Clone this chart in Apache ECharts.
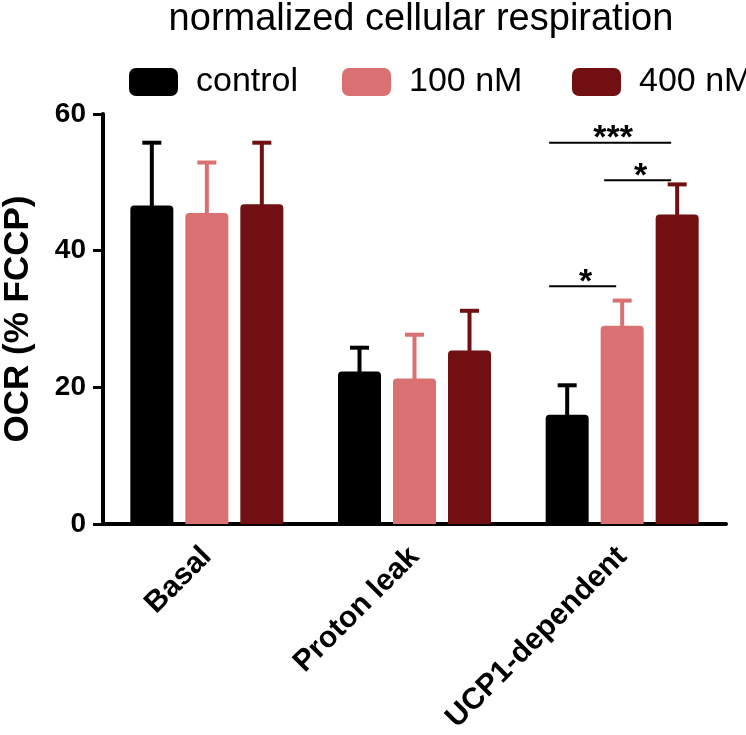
<!DOCTYPE html>
<html>
<head>
<meta charset="utf-8">
<script src="https://cdn.jsdelivr.net/npm/echarts@6/dist/echarts.min.js"></script>
<style>
html,body{margin:0;padding:0;background:#fff;}
#chart{width:746px;height:735px;}
</style>
</head>
<body>
<div id="chart"></div>
<script>
const categories = ['Basal', 'Proton leak', 'UCP1-dependent'];
const seriesNames = ['control', '100 nM', '400 nM'];
const controlMean = [46.6, 22.3, 16.0];
const controlErrTop = [55.8, 25.8, 20.3];
const nM100Mean = [45.5, 21.3, 29.0];
const nM100ErrTop = [52.9, 27.7, 32.7];
const nM400Mean = [46.8, 25.4, 45.3];
const nM400ErrTop = [55.8, 31.2, 49.7];
const yTicks = [0, 20, 40, 60];
// significance brackets in UCP1-dependent group: from series index, to series index, y value, label
const sigFrom = [0, 1, 0];
const sigTo = [2, 2, 1];
const sigY = [55.8, 50.3, 34.8];
const sigLabel = ['***', '*', '*'];
const sigCategory = 2;

const colors = ['#000000', '#D97072', '#720F12'];
const BAR_W = 43, BAR_GAP = 12;
const means = [controlMean, nM100Mean, nM400Mean];
const tops = [controlErrTop, nM100ErrTop, nM400ErrTop];
const FONT = '"Liberation Sans", Arial, sans-serif';

const chart = echarts.init(document.getElementById('chart'), null, {renderer: 'canvas'});

const barSeries = seriesNames.map((n, i) => ({
  name: n,
  type: 'bar',
  data: means[i],
  barWidth: BAR_W,
  barGap: (BAR_GAP / BAR_W * 100).toFixed(1) + '%',
  itemStyle: {color: colors[i], borderRadius: [4, 4, 0, 0]},
  z: 2
}));

const errSeries = seriesNames.map((n, i) => ({
  name: n + ' err',
  type: 'custom',
  z: 3,
  data: categories.map((c, k) => [k, means[i][k], tops[i][k]]),
  encode: {x: 0, y: [1, 2]},
  renderItem: function (params, api) {
    const k = api.value(0);
    const p0 = api.coord([k, api.value(1)]);
    const p1 = api.coord([k, api.value(2)]);
    const cx = p0[0] + (i - 1) * (BAR_W + BAR_GAP);
    return {
      type: 'group',
      children: [
        {type: 'line', shape: {x1: cx, y1: p0[1] + 2, x2: cx, y2: p1[1]}, style: {stroke: colors[i], lineWidth: 4}},
        {type: 'line', shape: {x1: cx - 9.5, y1: p1[1], x2: cx + 9.5, y2: p1[1]}, style: {stroke: colors[i], lineWidth: 4}}
      ]
    };
  }
}));

const sigSeries = {
  name: 'sig',
  type: 'custom',
  z: 4,
  data: sigY.map((y, j) => [sigCategory, y, sigFrom[j], sigTo[j], j]),
  encode: {x: 0, y: 1},
  renderItem: function (params, api) {
    const p = api.coord([api.value(0), api.value(1)]);
    const slot = BAR_W + BAR_GAP;
    const x1 = p[0] + (api.value(2) - 1) * slot - 18;
    const x2 = p[0] + (api.value(3) - 1) * slot - 6;
    const j = api.value(4);
    return {
      type: 'group',
      children: [
        {type: 'line', shape: {x1: x1, y1: p[1], x2: x2, y2: p[1]}, style: {stroke: '#000', lineWidth: 2}},
        {type: 'text', x: (x1 + x2) / 2 + 3, y: p[1] - 4,
          style: {text: sigLabel[j], fill: '#000', font: 'bold 34px ' + FONT, textAlign: 'center', textVerticalAlign: 'middle'}}
      ]
    };
  }
};

const legendBase = {
  top: 60,
  itemWidth: 49,
  itemHeight: 28,
  icon: 'roundRect',
  textStyle: {fontSize: 34, fontFamily: FONT, color: '#000', padding: [0, 0, 0, 13]}
};

chart.setOption({
  animation: false,
  backgroundColor: '#fff',
  title: {
    text: 'normalized cellular respiration',
    left: 416, top: -4, textAlign: 'center',
    textStyle: {fontSize: 38, fontWeight: 'normal', fontFamily: FONT, color: '#000'}
  },
  legend: [
    Object.assign({}, legendBase, {data: ['control'], left: 124}),
    Object.assign({}, legendBase, {data: ['100 nM'], left: 337}),
    Object.assign({}, legendBase, {data: ['400 nM'], left: 567})
  ],
  grid: {left: 103, right: 20, top: 114, bottom: 211, containLabel: false, outerBoundsMode: 'none'},
  xAxis: {
    type: 'category',
    data: categories,
    axisLine: {lineStyle: {color: '#000', width: 4}},
    axisTick: {alignWithLabel: true, length: 8, lineStyle: {width: 3, color: '#000'}},
    axisLabel: {rotate: 45, margin: 28, color: '#000', fontSize: 30, fontWeight: 'bold', fontFamily: FONT},
    splitLine: {show: false}
  },
  yAxis: {
    type: 'value',
    min: yTicks[0], max: yTicks[yTicks.length - 1], interval: yTicks[1] - yTicks[0],
    name: 'OCR (% FCCP)',
    nameLocation: 'middle',
    nameGap: 67,
    nameRotate: 90,
    nameMoveOverlap: false,
    nameTextStyle: {fontSize: 35, fontWeight: 'bold', color: '#000', fontFamily: FONT},
    axisLine: {show: true, lineStyle: {color: '#000', width: 4}},
    axisTick: {show: true, length: 10, lineStyle: {width: 3, color: '#000'}},
    axisLabel: {margin: 17, color: '#000', fontSize: 28, fontWeight: 'bold', fontFamily: FONT},
    splitLine: {show: false}
  },
  series: barSeries.concat(errSeries, [sigSeries])
});
</script>
</body>
</html>
